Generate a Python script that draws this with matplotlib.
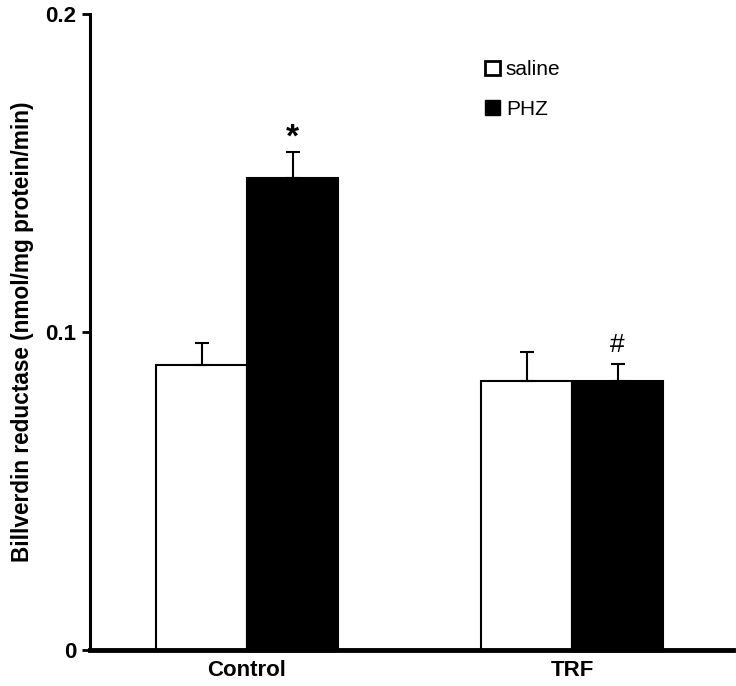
import matplotlib
matplotlib.use("Agg")
import matplotlib.pyplot as plt
import numpy as np
from matplotlib.patches import Patch

groups = ["Control", "TRF"]
series = ["saline", "PHZ"]
saline_vals = [0.0897, 0.0846]
saline_err = [0.0069, 0.0091]
phz_vals = [0.1483, 0.0846]
phz_err = [0.0084, 0.0054]
marks = ["*", "#"]

plt.rcParams['font.family'] = ['Liberation Sans', 'DejaVu Sans']

fig = plt.figure(figsize=(7.36, 6.86), dpi=100)
ax = fig.add_axes([0.1223, 0.0525, 0.8737, 0.927])

x = np.arange(len(groups))
w = 0.28
ax.bar(x - w/2, saline_vals, w, color="white", edgecolor="black", linewidth=1.5,
       yerr=[np.zeros(2), saline_err], error_kw=dict(ecolor="black", elinewidth=1.5, capsize=5, capthick=1.5), label="saline")
ax.bar(x + w/2, phz_vals, w, color="black", edgecolor="black", linewidth=1.5,
       yerr=[np.zeros(2), phz_err], error_kw=dict(ecolor="black", elinewidth=1.5, capsize=5, capthick=1.5), label="PHZ")

ax.text(x[0] + w/2, phz_vals[0] + phz_err[0] - 0.0005, marks[0], ha="center", va="bottom", fontsize=24, fontweight="bold")
ax.text(x[1] + w/2, phz_vals[1] + phz_err[1] + 0.002, marks[1], ha="center", va="bottom", fontsize=19)

ax.set_xlim(-0.483, 1.495)
ax.set_ylim(0, 0.2)
ax.set_yticks([0, 0.1, 0.2])
ax.set_yticklabels(["0", "0.1", "0.2"], fontsize=16, fontweight="bold")
ax.set_xticks(x)
ax.set_xticklabels(groups, fontsize=16, fontweight="bold")
ax.tick_params(axis="x", length=0, pad=7)
ax.tick_params(axis="y", length=6, width=2, pad=4)
ax.set_ylabel("Billverdin reductase (nmol/mg protein/min)", fontsize=16.3, fontweight="bold", labelpad=8)

for s in ["top", "right"]:
    ax.spines[s].set_visible(False)
ax.spines["left"].set_linewidth(2.2)
ax.spines["bottom"].set_linewidth(3.5)

handles = [Patch(facecolor="white", edgecolor="black", linewidth=2), Patch(facecolor="black", edgecolor="black")]
ax.legend(handles, series, loc="upper left", bbox_to_anchor=(0.585, 0.957), frameon=False,
          fontsize=15, handlelength=0.7, handleheight=0.7, handletextpad=0.3, labelspacing=1.0)

fig.savefig("out.png", dpi=100)
